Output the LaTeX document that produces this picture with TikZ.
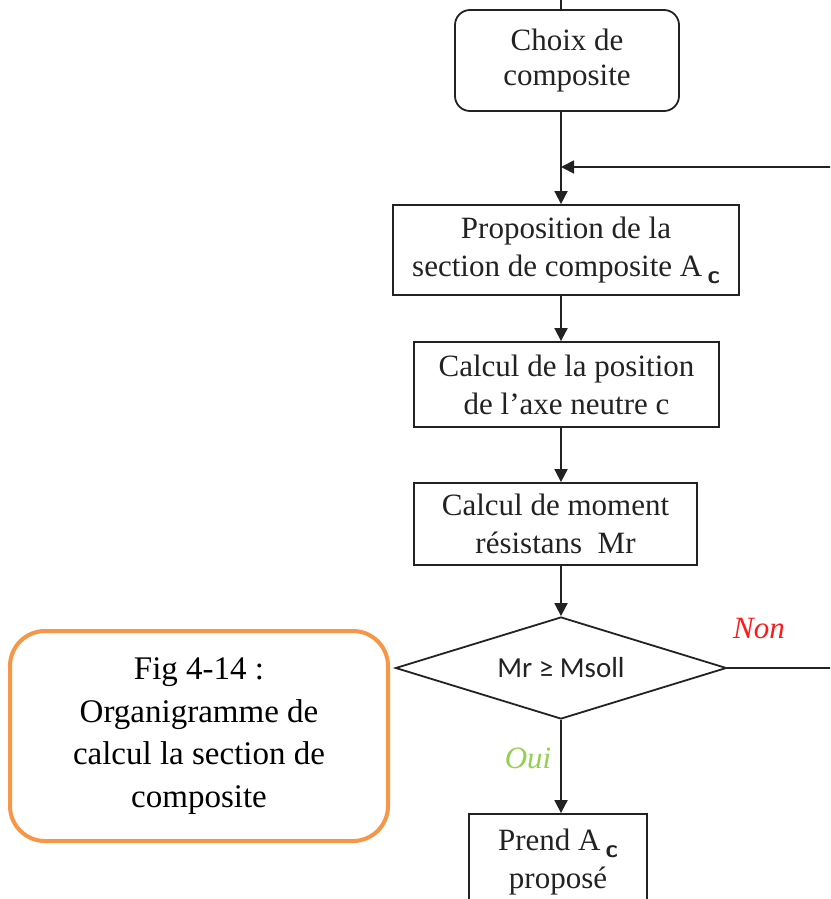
\documentclass[tikz,border=0pt]{standalone}
\usepackage{fontspec}
\setmainfont{Liberation Serif}
\newfontfamily\calib{Carlito}
\usetikzlibrary{shapes.geometric,arrows.meta}
\definecolor{linegray}{HTML}{222222}
\definecolor{capor}{HTML}{F79646}
\definecolor{nonred}{HTML}{FF1A1A}
\definecolor{ouigreen}{HTML}{92D050}
% subscript "c" of A_c
\newcommand\Asub{\,\raisebox{-7pt}{\sffamily\bfseries\fontsize{25}{25}\selectfont c}}
\begin{document}
\begin{tikzpicture}[x=1pt,y=-1pt,
  every node/.style={text=linegray},
  stepbox/.style={draw=linegray,line width=1.8pt,align=center,inner sep=0pt,
    font=\fontsize{31}{38}\selectfont},
  arr/.style={draw=linegray,line width=1.8pt,-{Triangle[length=13pt,width=13pt]}},
  plain/.style={draw=linegray,line width=1.8pt},
  lab/.style={font=\fontsize{31}{31}\selectfont\itshape}
]
\useasboundingbox (0,0) rectangle (830,899);
\clip (0,0) rectangle (830,899);

% main axis of the flowchart
\coordinate (ax) at (561,0);
\coordinate (fb) at (561,167);

\node[stepbox,rounded corners=15pt,minimum width=224pt,minimum height=101pt,
  font=\fontsize{31}{35}\selectfont] (choix) at (567,60.5) {Choix de\\composite};
\node[stepbox,minimum width=346pt,minimum height=90pt] (prop) at (566,250)
  {Proposition de la\\section de composite A\Asub};
\node[stepbox,minimum width=305pt,minimum height=85pt] (pos) at (566.5,384.5)
  {Calcul de la position\\de l’axe neutre c};
\node[stepbox,minimum width=283pt,minimum height=82pt] (mom) at (555.5,524)
  {Calcul de moment\\résistans~~Mr};
\node[stepbox,shape=diamond,aspect=3.25,minimum width=331pt,minimum height=102pt,
  font=\calib\fontsize{29}{29}\selectfont] (dia) at (561,668) {Mr ≥ Msoll};
\node[stepbox,minimum width=178pt,minimum height=96pt] (prend) at (558,862)
  {Prend A\Asub\\proposé};

% connectors
\draw[plain] (ax) -- (choix.north -| ax);
\draw[arr] (choix.south -| ax) -- (prop.north -| ax);
\draw[arr] (prop.south -| ax) -- (pos.north -| ax);
\draw[arr] (pos.south -| ax) -- (mom.north -| ax);
\draw[arr] (mom.south -| ax) -- (dia.north);
\draw[arr] (dia.south) -- (prend.north -| dia.south);
\draw[arr] (dia.east) -- (870,668) |- (fb);

% branch labels
\node[lab,text=nonred] (non) at (759,628) {Non};
\node[lab,text=ouigreen] (oui) at (528,758) {Oui};

% caption box
\node[draw=capor,line width=4pt,rounded corners=35pt,minimum width=378pt,
  minimum height=210pt,align=center,text=black,
  font=\fontsize{33}{42.5}\selectfont] (cap) at (199,736)
  {Fig 4-14 :\\Organigramme de\\calcul la section de\\composite};
\end{tikzpicture}
\end{document}
